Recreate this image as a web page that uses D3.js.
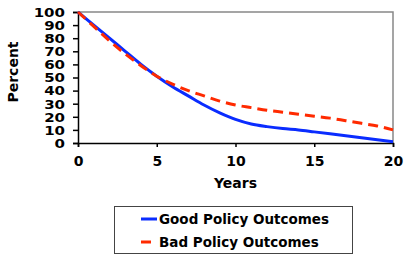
<!DOCTYPE html>
<html>
<head>
<meta charset="utf-8">
<script src="https://cdn.jsdelivr.net/npm/d3@7"></script>
<style>
  body { margin: 0; background: #fff; }
  text { font-family: "DejaVu Sans", Verdana, sans-serif; font-weight: bold; }
</style>
</head>
<body>
<svg id="chart" width="404" height="255"></svg>
<script>
// data
const years = [0, 1, 2, 3, 4, 5, 6, 7, 8, 9, 10, 11, 12, 13, 14, 15, 16, 17, 18, 19, 20];
const goodPolicy = [100, 90, 80, 70, 60, 51, 43, 36, 29, 23, 18, 14.5, 12.5, 11, 10, 8.5, 7, 5.5, 4, 2.5, 1];
const badPolicy = [100, 89, 78, 68, 59, 51, 45, 40, 36, 32, 29, 27, 25, 23.5, 22, 20.5, 19, 17, 15, 13, 10];
const seriesNames = ["Good Policy Outcomes", "Bad Policy Outcomes"];
const xTicks = [0, 5, 10, 15, 20];
const yTicks = [0, 10, 20, 30, 40, 50, 60, 70, 80, 90, 100];

const svg = d3.select("#chart");
const plotLeft = 78, plotRight = 393, plotTop = 12, plotBottom = 143;

const x = d3.scaleLinear().domain([0, 20]).range([plotLeft, plotRight]);
const y = d3.scaleLinear().domain([0, 100]).range([plotBottom, plotTop]);

// top and right frame in grey
svg.append("path")
  .attr("d", `M${plotLeft},${plotTop}H${plotRight}V${plotBottom}`)
  .attr("fill", "none")
  .attr("stroke", "#888")
  .attr("stroke-width", 1.5);

const xAxis = svg.append("g")
  .attr("transform", `translate(0,${plotBottom})`)
  .call(d3.axisBottom(x).tickValues(xTicks).tickSize(4).tickPadding(9));
const yAxis = svg.append("g")
  .attr("transform", `translate(${plotLeft},0)`)
  .call(d3.axisLeft(y).tickValues(yTicks).tickSize(5).tickPadding(8));

for (const ax of [xAxis, yAxis]) {
  ax.select(".domain").attr("stroke", "#000").attr("stroke-width", 1.5);
  ax.selectAll(".tick line").attr("stroke", "#000").attr("stroke-width", 1.5);
  ax.selectAll(".tick text")
    .attr("fill", "#000")
    .style("font-family", "'DejaVu Sans', sans-serif")
    .style("font-weight", "bold");
}
xAxis.selectAll(".tick text").style("font-size", "14px");
// y labels are short and wide in the original
yAxis.selectAll(".tick text")
  .style("font-size", "12px")
  .attr("dy", "0.36em")
  .each(function () {
    const w = this.getComputedTextLength();
    d3.select(this).attr("textLength", w * 1.25).attr("lengthAdjust", "spacingAndGlyphs");
  });

const line = d3.line()
  .x((d, i) => x(years[i]))
  .y(d => y(d))
  .curve(d3.curveMonotoneX);

svg.append("path")
  .datum(goodPolicy)
  .attr("d", line)
  .attr("fill", "none")
  .attr("stroke", "#0a2cff")
  .attr("stroke-width", 3);

svg.append("path")
  .datum(badPolicy)
  .attr("d", line)
  .attr("fill", "none")
  .attr("stroke", "#ff2a00")
  .attr("stroke-width", 3)
  .attr("stroke-dasharray", "10,6");

// axis titles
svg.append("text")
  .attr("x", (plotLeft + plotRight) / 2)
  .attr("y", 188)
  .attr("text-anchor", "middle")
  .style("font-size", "14px")
  .text("Years");

svg.append("text")
  .attr("transform", "translate(18,72) rotate(-90)")
  .attr("text-anchor", "middle")
  .style("font-size", "14px")
  .text("Percent");

// legend
const legend = svg.append("g");
legend.append("rect")
  .attr("x", 114.5).attr("y", 206.5)
  .attr("width", 238).attr("height", 47)
  .attr("fill", "#fff")
  .attr("stroke", "#444")
  .attr("stroke-width", 1);

const legendColors = ["#0a2cff", "#ff2a00"];
const legendY = [219, 242];
seriesNames.forEach((name, i) => {
  legend.append("line")
    .attr("x1", 141).attr("x2", i === 0 ? 157 : 151)
    .attr("y1", legendY[i]).attr("y2", legendY[i])
    .attr("stroke", legendColors[i])
    .attr("stroke-width", 3);
  legend.append("text")
    .attr("x", 159)
    .attr("y", legendY[i] + 5)
    .style("font-size", "13.5px")
    .text(name);
});
</script>
</body>
</html>
